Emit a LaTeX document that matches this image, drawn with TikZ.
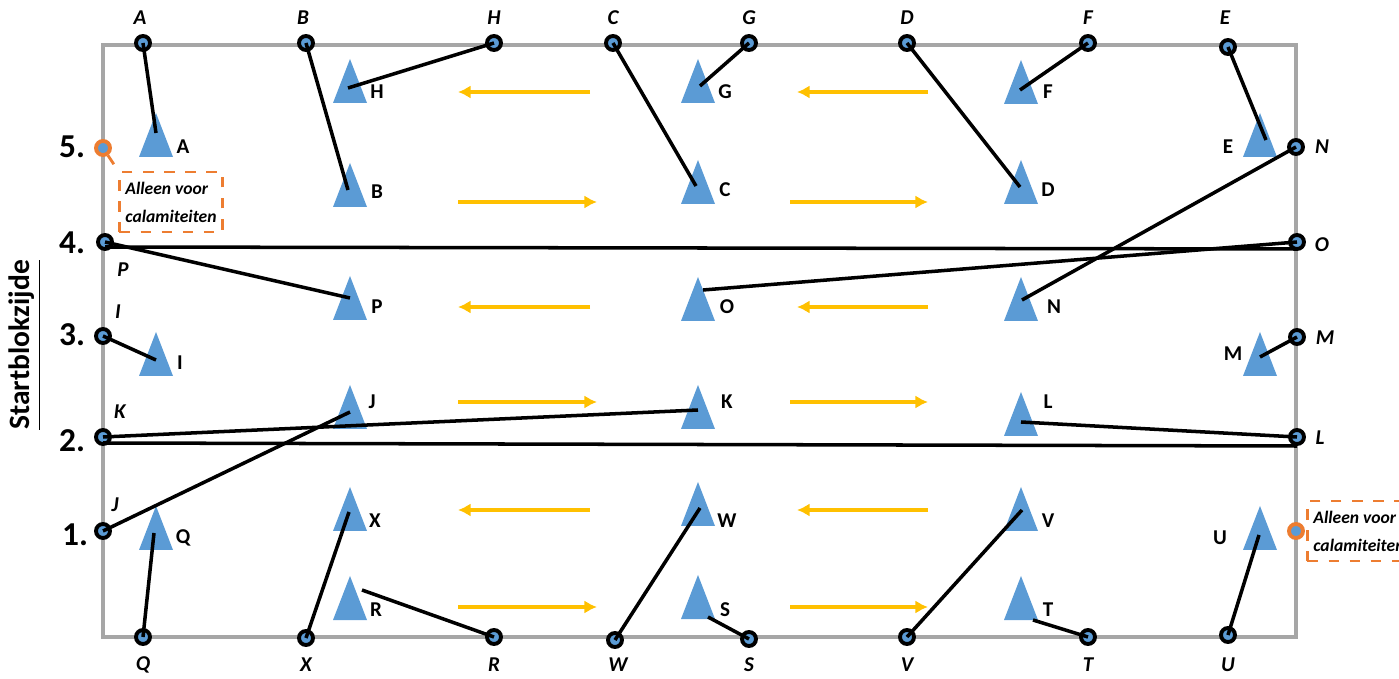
\documentclass[tikz,border=0pt]{standalone}
\usepackage{fontspec}
\setmainfont{Carlito}
\usetikzlibrary{calc,arrows.meta}
\definecolor{coneblue}{HTML}{5B9BD5}
\definecolor{calorange}{HTML}{ED7D31}
\definecolor{laneyellow}{HTML}{FFC000}
\definecolor{framegray}{HTML}{A6A6A6}
\tikzset{
    pin/.style={circle, draw=black, fill=coneblue, line width=1.1pt, minimum size=0.14cm, inner sep=0pt},
    emergency/.style={pin, draw=calorange},
    cone/.style={fill=coneblue},
    rope/.style={draw=black, line width=1pt},
    lane/.style={draw=laneyellow, line width=1.2pt, ->},
    frame/.style={draw=framegray, line width=1.4pt},
    conelabel/.style={font=\fontsize{6}{7}\selectfont\bfseries, inner sep=0pt},
    pinlabel/.style={font=\fontsize{6}{7}\selectfont\bfseries\itshape, inner sep=0pt},
    startnum/.style={font=\fontsize{9.5}{10}\selectfont\bfseries, inner sep=0pt},
    callout/.style={draw=calorange, dashed, line width=0.8pt, align=left, inner xsep=1.6pt, inner ysep=0pt,
        minimum width=1.03cm, minimum height=0.6cm,
        font=\fontsize{5}{8}\selectfont\bfseries\itshape},
}
\tikzset{>={Latex[length=3.6pt,width=3.8pt]}}

\begin{document}
\begin{tikzpicture}[x=0.01cm, y=-0.01cm]
\useasboundingbox (0,0) rectangle (1399,679);
\clip (0,0) rectangle (1399,679);

\draw [frame] (103,45) rectangle (1296,637);

% lanes
\foreach \y in {92,307,510} {
    \draw [lane] (590,\y) -- (458,\y);
    \draw [lane] (928,\y) -- (797,\y);
}
\foreach \y in {202,402,607} {
    \draw [lane] (458,\y) -- (597,\y);
    \draw [lane] (790,\y) -- (928,\y);
}

% cones: name/x/base/label dx/label dy/end dx/end dy
\foreach \n/\x/\y/\lx/\ly/\ex/\ey in {
    A/156/157/27/-10/0/-24, H/350/103/27/-11/-2/-15, B/350/207/27/-15/-2/-17,
    G/698/103/27/-11/2/-17, C/698/204/27/-14/-2/-18, F/1021/104/27/-12/-1/-14,
    D/1021/204/27/-14/-1/-17, E/1260/157/-32/-10/6/-17, P/350/320/27/-13/0/-22,
    O/698/321/29/-14/5/-31, N/1021/321/33/-14/1/-21, I/156/376/24/-13/0/-16,
    M/1260/376/-27/-22/0/-19, J/350/429/22/-27/0/-17, K/698/429/29/-27/0/-19,
    L/1021/436/27/-34/0/-14, X/350/531/25/-10/-1/-19, W/698/526/29/-5/2/-18,
    V/1021/531/27/-10/1/-21, Q/156/550/27/-12/-2/-17, U/1260/550/-40/-12/-1/-15,
    R/350/620/26/-10/12/-30, S/698/619/27/-9/10/-2, T/1021/620/27/-10/12/0} {
    \fill [cone] (\x-17,\y) -- (\x,\y-44) -- (\x+17,\y) -- cycle;
    \coordinate (t\n) at (\x+\ex,\y+\ey);
    \node [conelabel] (l\n) at (\x+\lx,\y+\ly) {\n};
}

% pins
\foreach \n/\x/\y in {
    A/143/43, B/306/43, H/494/43, C/613/43, G/749/43, D/907/43, F/1088/43, E/1228/47,
    P/105/242, I/103/336, K/103/437, J/103/531,
    N/1296/147, O/1297/242, M/1297/337, L/1297/437,
    Q/143/637, X/306/638, R/494/637, W/615/640, S/749/639, V/907/637, T/1088/637, U/1228/635}
    \node [pin] (p\n) at (\x,\y) {};
\node [emergency] (c5) at (103,148) {};
\node [emergency] (c1) at (1296,531) {};

% ropes
\foreach \n in {A,B,H,C,G,D,F,E,P,I,K,J,N,O,M,L,Q,X,R,W,S,V,T,U}
    \draw [rope] (p\n.center) -- (t\n);
\draw [rope] ($(pP.center)+(0,5)$) -- ($(pO.center)+(0,7)$);
\draw [rope] ($(pK.center)+(0,6)$) -- ($(pL.center)+(0,9)$);

% pin names
\foreach \n/\x in {A/140, B/303, H/494, C/613, G/749, D/907, F/1088, E/1225}
    \node [pinlabel] (top\n) at (\x,18) {\n};
\foreach \n/\x in {Q/143, X/306, R/494, W/618, S/749, V/907, T/1088, U/1228}
    \node [pinlabel] (bot\n) at (\x,665) {\n};
\node [pinlabel] (sideP) at (123,270) {P};
\node [pinlabel] (sideI) at (118,312) {I};
\node [pinlabel] (sideK) at (120,412) {K};
\node [pinlabel] (sideJ) at (115,505) {J};
\node [pinlabel] (sideN) at (1322,147) {N};
\node [pinlabel] (sideO) at (1322,245) {O};
\node [pinlabel] (sideM) at (1325,338) {M};
\node [pinlabel] (sideL) at (1320,438) {L};

% start positions
\node [startnum] (n5) at (72,147) {5.};
\node [startnum] (n4) at (72,243) {4.};
\node [startnum] (n3) at (72,335) {3.};
\node [startnum] (n2) at (72,441) {2.};
\node [startnum] (n1) at (75,535) {1.};
\node [font=\fontsize{8.4}{9}\selectfont\bfseries, rotate=90] (side) at (25,345) {\underline{Startblokzijde}};

% emergency only
\node [callout] (boxL) at (171,202) {Alleen voor\\calamiteiten};
\draw [draw=calorange, dashed, line width=0.8pt] (c5) -- (boxL.north west);
\node [callout, anchor=west] (boxR) at (1306,531) {Alleen voor\\calamiteiten};
\end{tikzpicture}
\end{document}
